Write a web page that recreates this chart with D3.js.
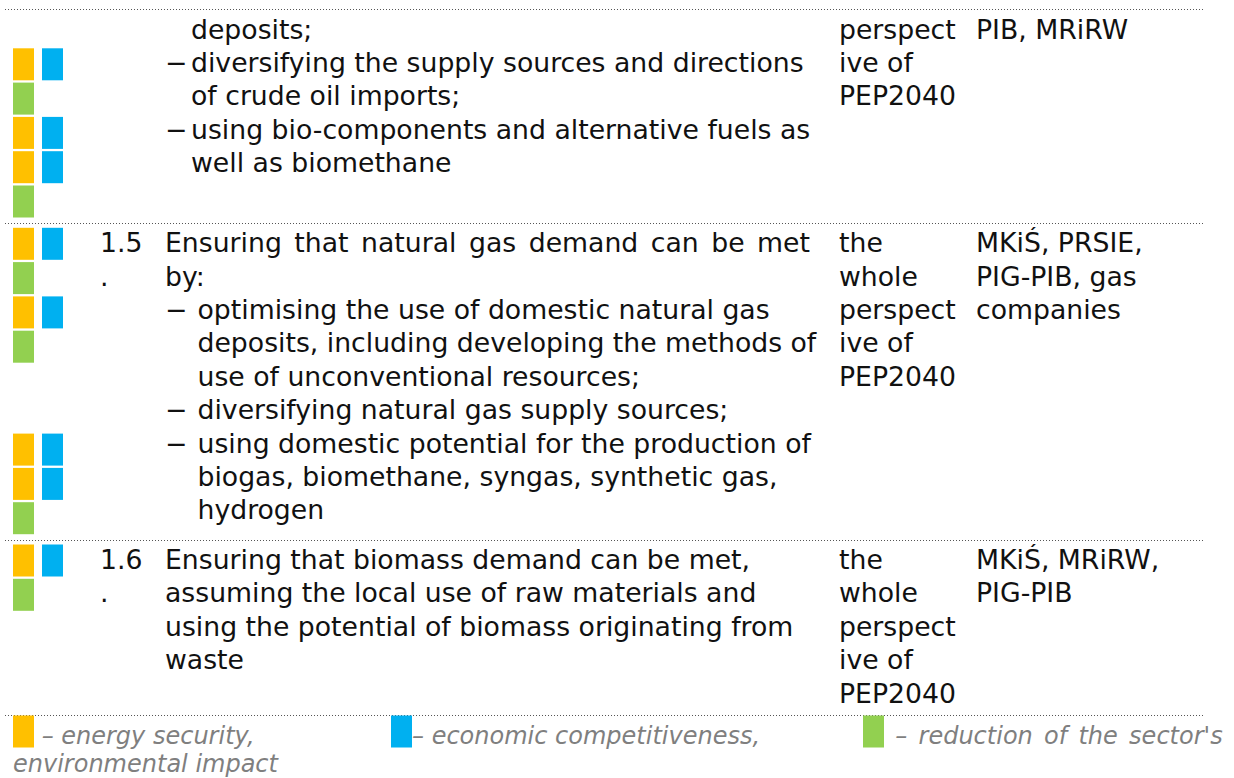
<!DOCTYPE html>
<html>
<head>
<meta charset="utf-8">
<script src="https://cdn.jsdelivr.net/npm/d3@7"></script>
<style>
html, body { margin: 0; padding: 0; background: #fff; }
svg { display: block; font-family: "DejaVu Sans", sans-serif; }
</style>
</head>
<body>
<svg id="svg" width="1234" height="778"></svg>
<script>
// goals used by the coloured markers
const goalKeys = ["Y", "B", "G"];
const goalColors = ["#ffc000", "#00b0f0", "#92d050"];
const legendLabels = [" – energy security,", "– economic competitiveness,", " – reduction of the sector's"];
const legendTail = "environmental impact";

// table rows (first one is the tail of a row from the previous page)
// p = paragraph line, j = justified paragraph line, b = bullet, c = bullet continuation
const rowNumbers = [[], ["1.5", "."], ["1.6", "."]];
const taskLines = [
    [["c", "deposits;"],
     ["b", "diversifying the supply sources and directions"],
     ["c", "of crude oil imports;"],
     ["b", "using bio-components and alternative fuels as"],
     ["c", "well as biomethane"]],
    [["j", "Ensuring that natural gas demand can be met"],
     ["p", "by:"],
     ["b", "optimising the use of domestic natural gas"],
     ["c", "deposits, including developing the methods of"],
     ["c", "use of unconventional resources;"],
     ["b", "diversifying natural gas supply sources;"],
     ["b", "using domestic potential for the production of"],
     ["c", "biogas, biomethane, syngas, synthetic gas,"],
     ["c", "hydrogen"]],
    [["p", "Ensuring that biomass demand can be met,"],
     ["p", "assuming the local use of raw materials and"],
     ["p", "using the potential of biomass originating from"],
     ["p", "waste"]]
];
const periodLines = [
    ["perspect", "ive of", "PEP2040"],
    ["the", "whole", "perspect", "ive of", "PEP2040"],
    ["the", "whole", "perspect", "ive of", "PEP2040"]
];
const bodyLines = [
    ["PIB, MRiRW"],
    ["MKiŚ, PRSIE,", "PIG-PIB, gas", "companies"],
    ["MKiŚ, MRiRW,", "PIG-PIB"]
];
const markerLines = [
    [null, "YB", "G", "YB", "YB", "G"],
    ["YB", "G", "YB", "G", null, null, "YB", "YB", "G"],
    ["YB", "G"]
];

const svg = d3.select("#svg");
const color = d3.scaleOrdinal().domain(goalKeys).range(goalColors);
const markerX = d3.scaleOrdinal().domain(goalKeys).range([13, 42, 13]);
const legendX = d3.scaleOrdinal().domain(goalKeys).range([13, 391, 863]);
const colX = d3.scaleOrdinal()
    .domain(["num", "task", "period", "body"])
    .range([100, 165, 839, 976]);

const fontSize = 26.7,
    linePitch = 33.4,
    slotPitch = 34.3,
    rowPad = 8,
    top0 = 9,
    taskRight = 810,
    legendRight = 1219,
    bulletIndent = [26, 32.5, 32.5];

const rowHeights = taskLines.map((t, i) => rowPad + Math.max(
    markerLines[i].length * slotPitch,
    d3.max([t.length, periodLines[i].length, bodyLines[i].length]) * linePitch));
const rowTops = [top0, ...d3.cumsum(rowHeights).map(d => top0 + d)];

svg.append("rect").attr("width", 1234).attr("height", 778).attr("fill", "#fff");

// dotted separators
svg.append("g")
    .selectAll("line")
    .data(rowTops)
    .join("line")
    .attr("x1", 5)
    .attr("x2", 1204)
    .attr("y1", d => Math.round(d) + 0.5)
    .attr("y2", d => Math.round(d) + 0.5)
    .attr("stroke", "#555")
    .attr("stroke-width", 1)
    .attr("stroke-dasharray", "1 2");

const rows = svg.append("g")
    .selectAll("g")
    .data(taskLines.map((t, i) => i))
    .join("g")
    .attr("transform", i => `translate(0,${rowTops[i]})`);

const baseline = j => 29.5 + j * linePitch;

// coloured markers
rows.selectAll("rect")
    .data(i => markerLines[i].flatMap((code, j) => code ? code.split("").map(k => ({k, j})) : []))
    .join("rect")
    .attr("x", d => markerX(d.k))
    .attr("y", d => 5 + d.j * slotPitch)
    .attr("width", 21)
    .attr("height", 32)
    .attr("fill", d => color(d.k));

const textStyle = sel => sel
    .attr("font-size", fontSize)
    .attr("fill", "#111");

rows.selectAll("text.num")
    .data(i => rowNumbers[i])
    .join("text")
    .attr("class", "num")
    .attr("x", colX("num"))
    .attr("y", (d, j) => baseline(j))
    .text(d => d)
    .call(textStyle);

rows.each(function(i) {
    const g = d3.select(this);
    const lines = taskLines[i];
    g.selectAll("text.task")
        .data(lines)
        .join("text")
        .attr("class", "task")
        .attr("x", d => "pj".includes(d[0]) ? colX("task") : colX("task") + bulletIndent[i])
        .attr("y", (d, j) => baseline(j))
        .text(d => d[1])
        .call(textStyle)
        .filter(d => d[0] === "j")
        .attr("word-spacing", function(d) {
            const spaces = d[1].split(" ").length - 1;
            const free = taskRight - colX("task") - this.getComputedTextLength();
            return Math.max(0, free / spaces);
        });
    g.selectAll("text.dash")
        .data(lines.map((d, j) => ({d, j})).filter(o => o.d[0] === "b"))
        .join("text")
        .attr("class", "dash")
        .attr("x", colX("task"))
        .attr("y", o => baseline(o.j))
        .text("−")
        .call(textStyle);
});

rows.selectAll("text.period")
    .data(i => periodLines[i])
    .join("text")
    .attr("class", "period")
    .attr("x", colX("period"))
    .attr("y", (d, j) => baseline(j))
    .text(d => d)
    .call(textStyle);

rows.selectAll("text.body")
    .data(i => bodyLines[i])
    .join("text")
    .attr("class", "body")
    .attr("x", colX("body"))
    .attr("y", (d, j) => baseline(j))
    .text(d => d)
    .call(textStyle);

// legend on tab stops, last label spread to the right edge
const legendTop = rowTops[rowTops.length - 1];
const legend = svg.append("g").attr("transform", `translate(0,${legendTop})`);
const items = legend.selectAll("g")
    .data(goalKeys)
    .join("g")
    .attr("transform", d => `translate(${legendX(d)},0)`);
items.append("rect")
    .attr("y", 1)
    .attr("width", 21)
    .attr("height", 32)
    .attr("fill", d => color(d));
const labels = items.append("text")
    .attr("x", 21)
    .attr("y", 29)
    .attr("font-size", 24)
    .attr("font-style", "italic")
    .attr("fill", "#7f7f7f")
    .style("white-space", "pre")
    .text((d, i) => legendLabels[i]);

labels.filter((d, i) => i === goalKeys.length - 1)
    .attr("word-spacing", function(d) {
        const label = legendLabels[goalKeys.length - 1];
        const spaces = label.trim().split(" ").length - 1;
        const free = legendRight - legendX(d) - 21 - this.getComputedTextLength();
        return Math.max(0, free / spaces);
    });

legend.append("text")
    .attr("x", 13)
    .attr("y", 57)
    .attr("font-size", 24)
    .attr("font-style", "italic")
    .attr("fill", "#7f7f7f")
    .text(legendTail);
</script>
</body>
</html>
